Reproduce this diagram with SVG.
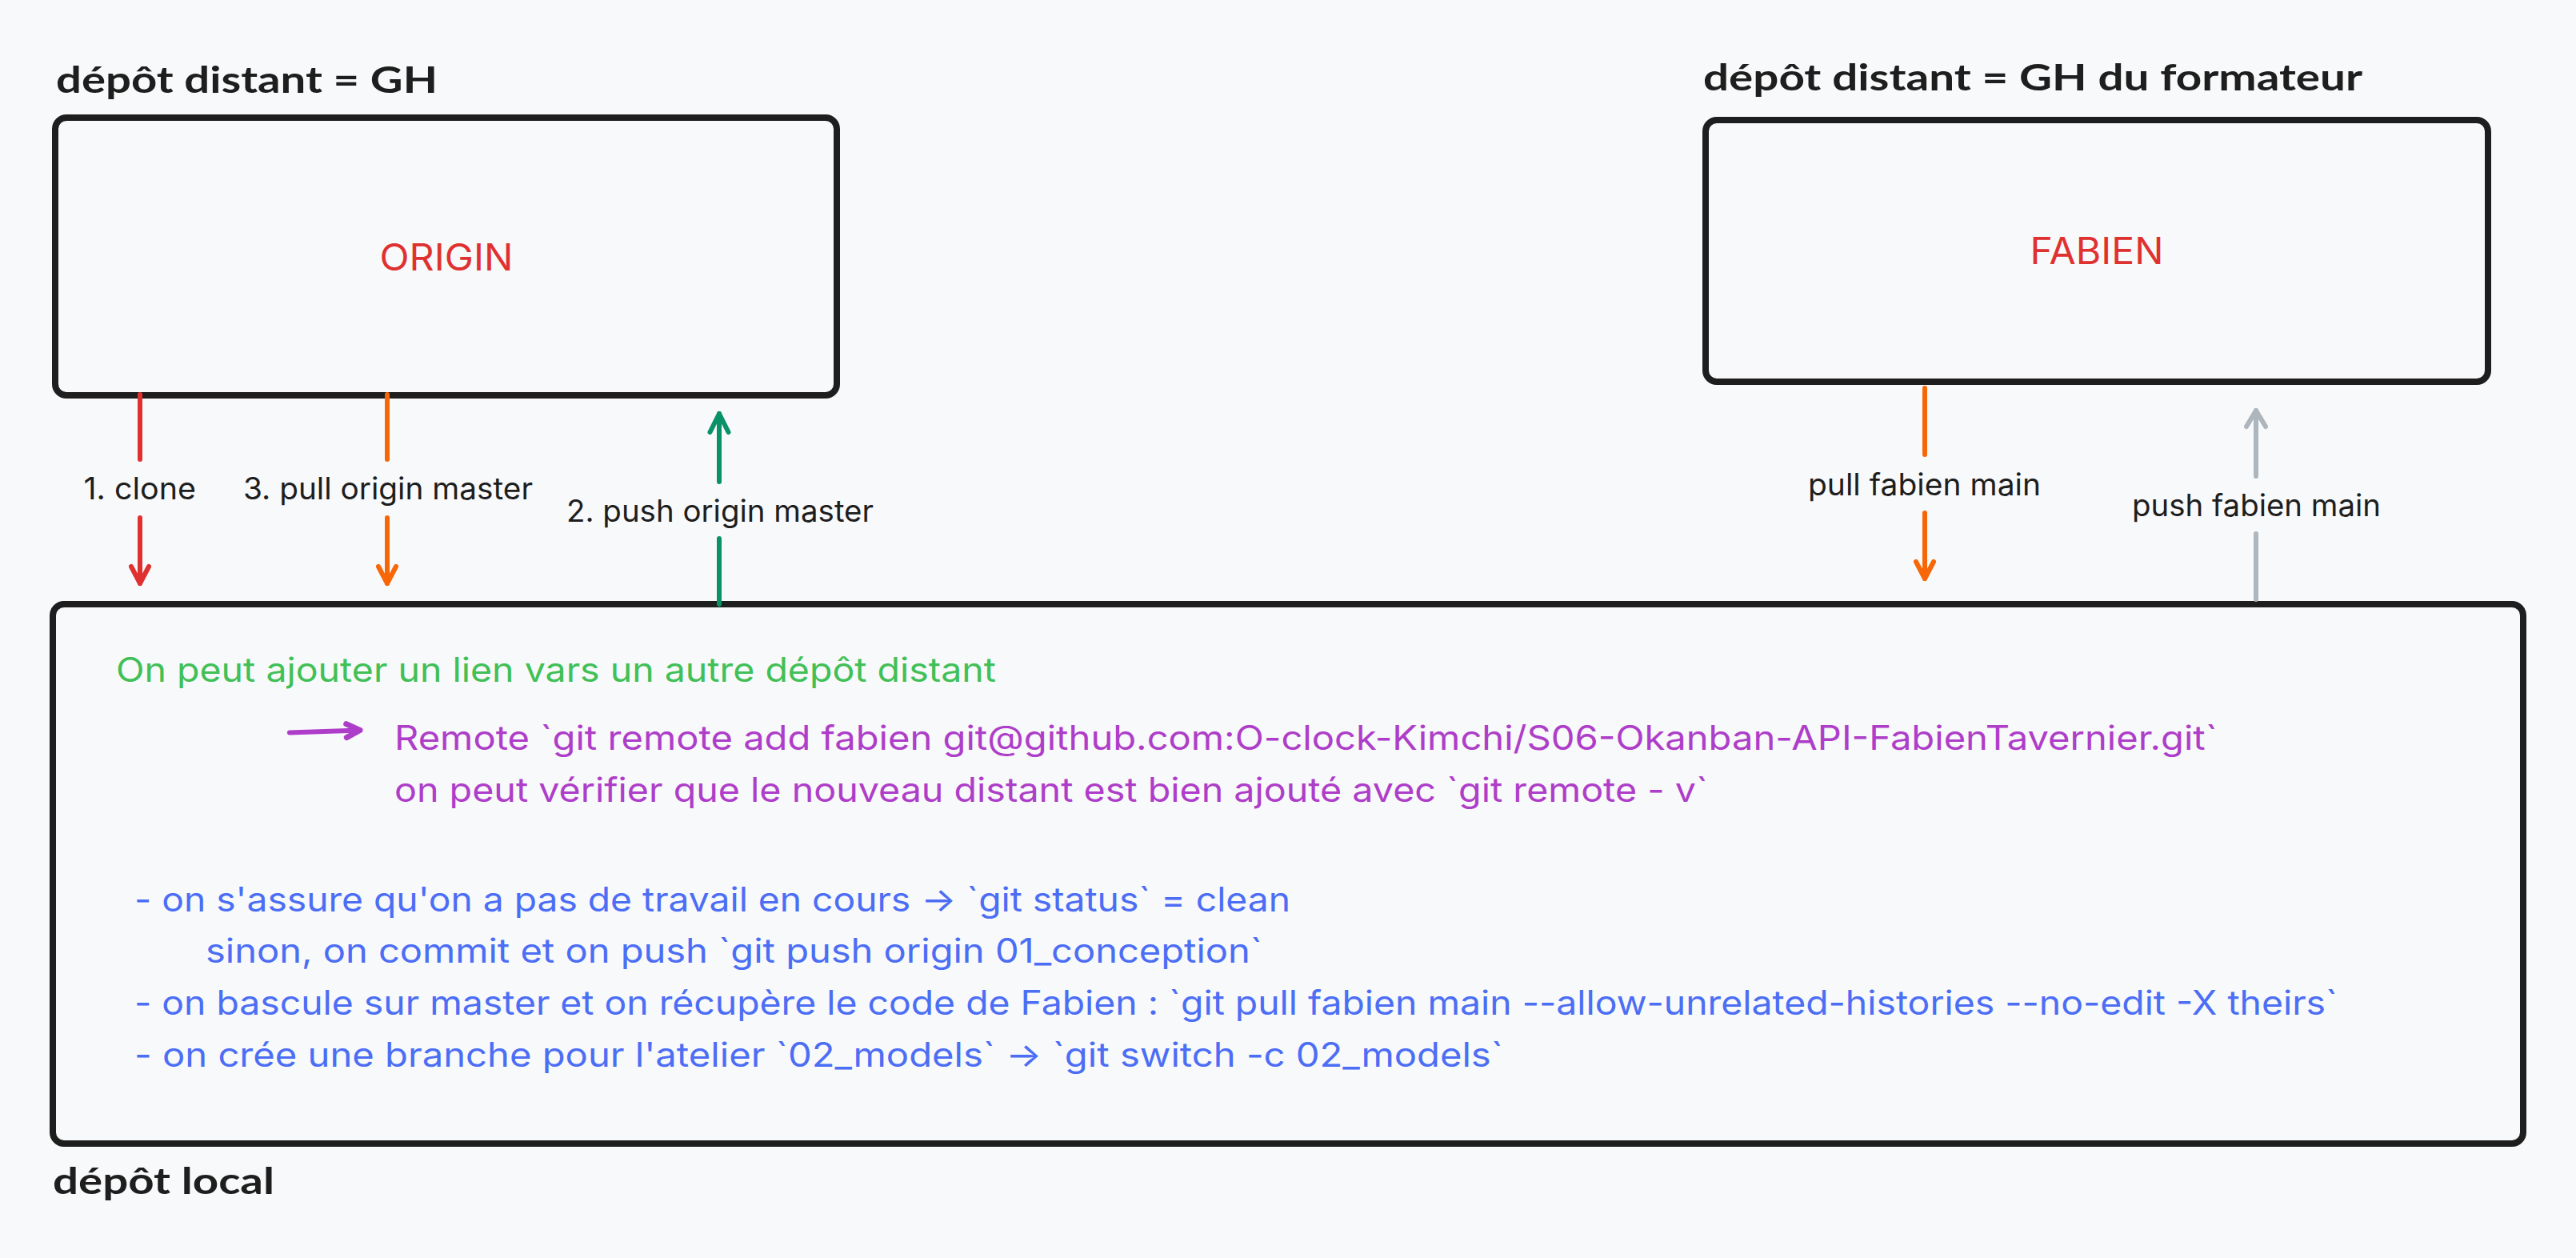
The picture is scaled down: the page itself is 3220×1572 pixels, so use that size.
<svg xmlns="http://www.w3.org/2000/svg" width="3220" height="1572" viewBox="0 0 3220 1572">
<style>
.box{fill:none;stroke:#1e1e1e;stroke-width:8;stroke-linejoin:round}
.hdr{font-family:Lato,"Noto Sans",sans-serif;font-weight:700;font-size:46px;fill:#1e1e1e}
.name{font-family:Inter,"Noto Sans",sans-serif;font-size:46px;fill:#e03131;text-anchor:middle}
.lbl{font-family:Inter,"Noto Sans",sans-serif;font-size:38px;fill:#1e1e1e}
.body{font-family:Inter,"Noto Sans",sans-serif;font-size:42px}
.g{fill:#40c057}.p{fill:#ae3ec9}.b{fill:#4c6ef5}
.ln{fill:none;stroke-width:6;stroke-linecap:round}
</style>
<defs>
<marker id="mr" markerUnits="userSpaceOnUse" orient="auto" viewBox="-30 -20 40 40" refX="0" refY="0" markerWidth="40" markerHeight="40" overflow="visible"><path d="M-21 -11 L0 0 L-21 11" fill="none" stroke="#e03131" stroke-width="6" stroke-linecap="round" stroke-linejoin="round"/></marker>
<marker id="mo" markerUnits="userSpaceOnUse" orient="auto" viewBox="-30 -20 40 40" refX="0" refY="0" markerWidth="40" markerHeight="40" overflow="visible"><path d="M-21 -11 L0 0 L-21 11" fill="none" stroke="#f76707" stroke-width="6" stroke-linecap="round" stroke-linejoin="round"/></marker>
<marker id="mg" markerUnits="userSpaceOnUse" orient="auto" viewBox="-30 -20 40 40" refX="0" refY="0" markerWidth="40" markerHeight="40" overflow="visible"><path d="M-23 -11.5 L0 0 L-23 11.5" fill="none" stroke="#099268" stroke-width="6" stroke-linecap="round" stroke-linejoin="round"/></marker>
<marker id="mgr" markerUnits="userSpaceOnUse" orient="auto" viewBox="-30 -20 40 40" refX="0" refY="0" markerWidth="40" markerHeight="40" overflow="visible"><path d="M-20 -12 L0 0 L-20 12" fill="none" stroke="#adb5bd" stroke-width="6" stroke-linecap="round" stroke-linejoin="round"/></marker>
<marker id="mp" markerUnits="userSpaceOnUse" orient="auto" viewBox="-30 -20 40 40" refX="0" refY="0" markerWidth="40" markerHeight="40" overflow="visible"><path d="M-17 -8.5 L0 0 L-17 8.5" fill="none" stroke="#ae3ec9" stroke-width="7" stroke-linecap="round" stroke-linejoin="round"/></marker>
</defs>
<rect x="0" y="0" width="3220" height="1572" fill="#f8f9fa"/>

<g id="origin">
<text class="hdr" x="70" y="116" textLength="477" lengthAdjust="spacingAndGlyphs">dépôt distant = GH</text>
<rect class="box" x="69" y="147" width="977" height="347" rx="14"/>
<text class="name" x="558" y="338" textLength="167" lengthAdjust="spacingAndGlyphs">ORIGIN</text>
</g>

<g id="fabien">
<text class="hdr" x="2129" y="113" textLength="824" lengthAdjust="spacingAndGlyphs">dépôt distant = GH du formateur</text>
<rect class="box" x="2132" y="150" width="978" height="327" rx="14"/>
<text class="name" x="2621" y="330" textLength="167" lengthAdjust="spacingAndGlyphs">FABIEN</text>
</g>

<g id="local">
<rect class="box" x="66" y="755" width="3088" height="674" rx="14"/>
<text class="hdr" x="66" y="1492" textLength="277" lengthAdjust="spacingAndGlyphs">dépôt local</text>
<text class="body g" x="145" y="852" textLength="1100" lengthAdjust="spacingAndGlyphs">On peut ajouter un lien vars un autre dépôt distant</text>
<path class="ln" d="M362 915.5 L450 912.5" stroke="#ae3ec9" stroke-width="7" marker-end="url(#mp)"/>
<text class="body p" x="493" y="937" textLength="2279" lengthAdjust="spacingAndGlyphs">Remote `git remote add fabien git@github.com:O-clock-Kimchi/S06-Okanban-API-FabienTavernier.git`</text>
<text class="body p" x="493" y="1002" textLength="1642" lengthAdjust="spacingAndGlyphs">on peut vérifier que le nouveau distant est bien ajouté avec `git remote - v`</text>
<text class="body b" x="168" y="1139" textLength="1445" lengthAdjust="spacingAndGlyphs">- on s'assure qu'on a pas de travail en cours → `git status` = clean</text>
<text class="body b" x="257" y="1203" textLength="1321" lengthAdjust="spacingAndGlyphs">sinon, on commit et on push `git push origin 01_conception`</text>
<text class="body b" x="168" y="1268" textLength="2754" lengthAdjust="spacingAndGlyphs">- on bascule sur master et on récupère le code de Fabien : `git pull fabien main --allow-unrelated-histories --no-edit -X theirs`</text>
<text class="body b" x="168" y="1333" textLength="1711" lengthAdjust="spacingAndGlyphs">- on crée une branche pour l'atelier `02_models` → `git switch -c 02_models`</text>
</g>

<g id="connectors">
<g id="edge-clone">
<path class="ln" stroke="#e03131" d="M175 493 L175 574 M175 647 L175 729" marker-end="url(#mr)"/>
<text class="lbl" x="104.5" y="624" textLength="140.5" lengthAdjust="spacingAndGlyphs">1. clone</text>
</g>
<g id="edge-pull-origin">
<path class="ln" stroke="#f76707" d="M484 493 L484 574 M484 647 L484 729" marker-end="url(#mo)"/>
<text class="lbl" x="304" y="624" textLength="362" lengthAdjust="spacingAndGlyphs">3. pull origin master</text>
</g>
<g id="edge-push-origin">
<path class="ln" stroke="#099268" d="M899 755 L899 673 M899 602 L899 517" marker-end="url(#mg)"/>
<text class="lbl" x="708" y="652" textLength="384" lengthAdjust="spacingAndGlyphs">2. push origin master</text>
</g>
<g id="edge-pull-fabien">
<path class="ln" stroke="#f76707" d="M2406 485 L2406 568 M2406 641 L2406 723" marker-end="url(#mo)"/>
<text class="lbl" x="2260" y="619" textLength="291" lengthAdjust="spacingAndGlyphs">pull fabien main</text>
</g>
<g id="edge-push-fabien">
<path class="ln" stroke="#adb5bd" d="M2820 749 L2820 667 M2820 595 L2820 513" marker-end="url(#mgr)"/>
<text class="lbl" x="2665" y="645" textLength="311" lengthAdjust="spacingAndGlyphs">push fabien main</text>
</g>
</g>
</svg>
